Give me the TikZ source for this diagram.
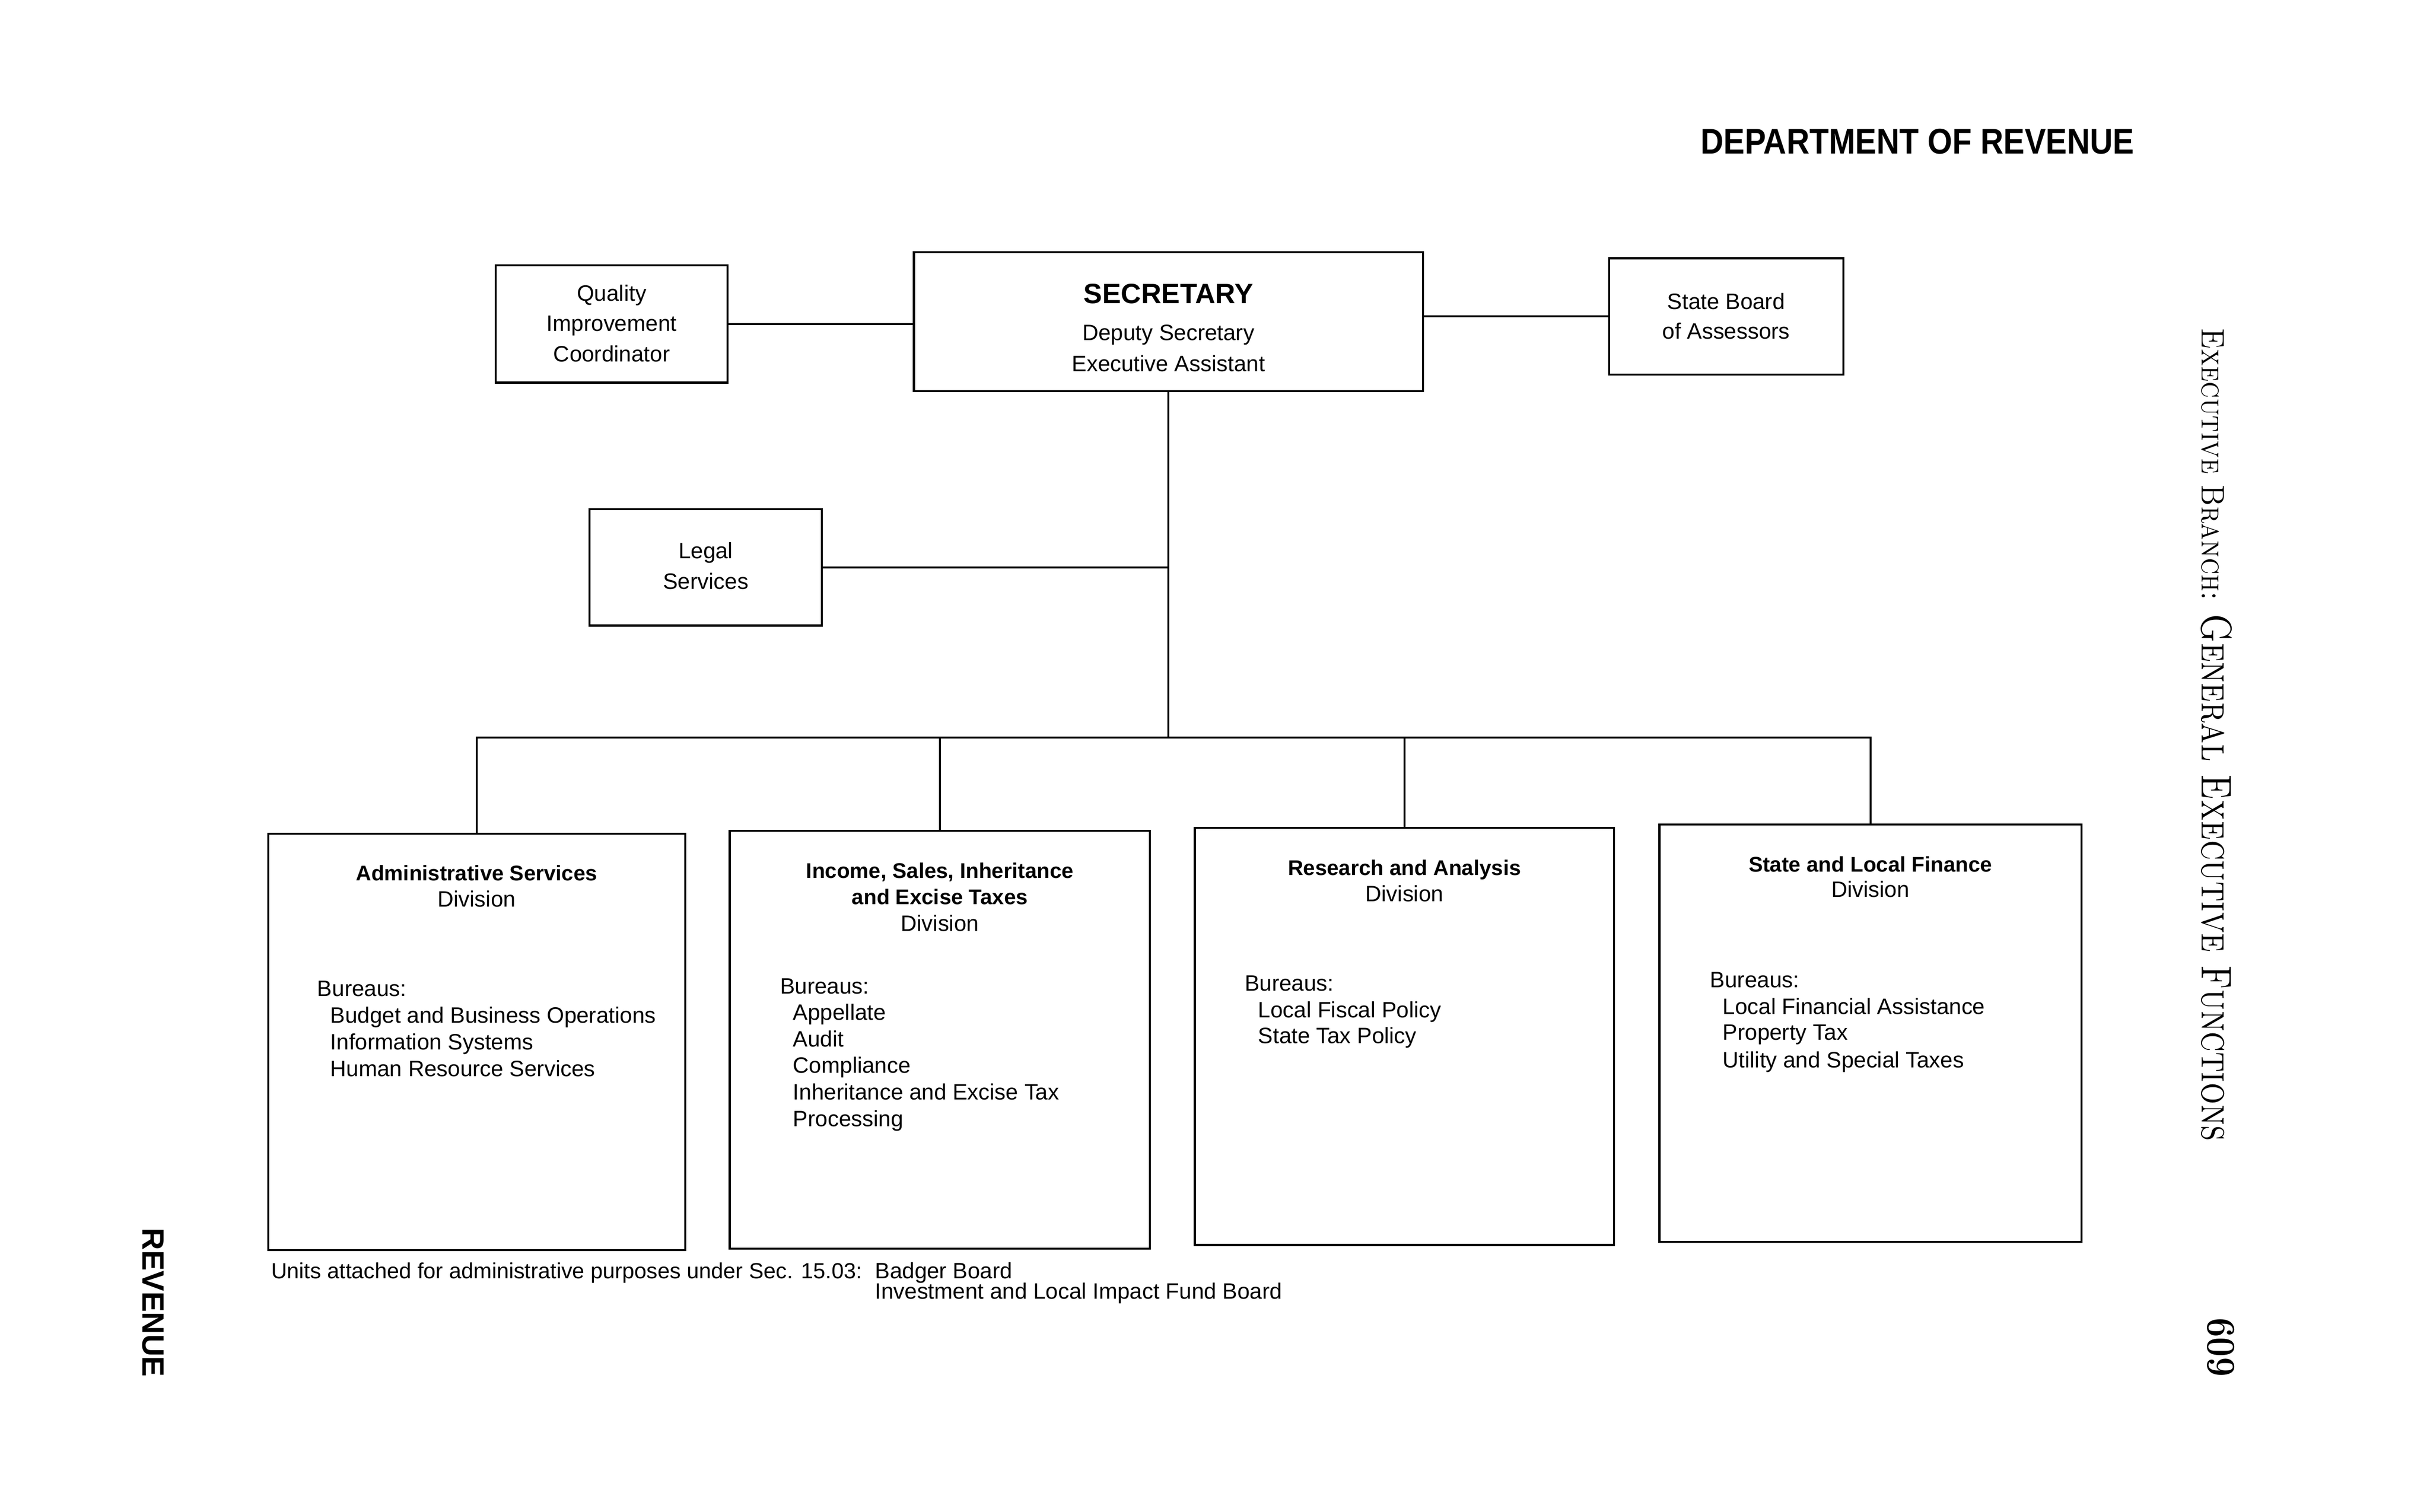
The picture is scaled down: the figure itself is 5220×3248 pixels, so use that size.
\documentclass[tikz,border=0pt]{standalone}
\usepackage{fontspec}
\usepackage{graphicx}
\newfontfamily\lsans{Liberation Sans}
\begin{document}
\begin{tikzpicture}[x=0.01cm, y=-0.01cm,
  box/.style={draw, line width=1.3pt, inner sep=0pt},
  tx/.style={inner sep=0pt, anchor=base, font=\lsans\fontsize{13.6}{16}\selectfont},
  txl/.style={tx, anchor=base west},
  tb/.style={inner sep=0pt, anchor=base, font=\lsans\bfseries\fontsize{13}{16}\selectfont},
  link/.style={line width=1.2pt}]
\fill[white] (0,0) rectangle (5220,3248);
\useasboundingbox (0,0) rectangle (5220,3248);

% heading
\node[inner sep=0pt, anchor=base, font=\lsans\bfseries\fontsize{21.8}{24}\selectfont] (dept) at (4119,330) {\scalebox{0.89}[1]{DEPARTMENT OF REVENUE}};

% top boxes
\node[box, minimum width=4.98cm, minimum height=2.52cm] (qual) at (1314,696) {};
\node[box, minimum width=10.93cm, minimum height=2.98cm] (sec) at (2510,691) {};
\node[box, minimum width=5.03cm, minimum height=2.50cm] (state) at (3708,680) {};
\node[box, minimum width=4.99cm, minimum height=2.50cm] (legal) at (1516,1219) {};

\node[tx] (q1) at (1314,647) {Quality};
\node[tx] (q2) at (1314,711) {Improvement};
\node[tx] (q3) at (1314,777) {Coordinator};
\node[tx, font=\lsans\bfseries\fontsize{17.1}{20}\selectfont] (s1) at (2510,652) {SECRETARY};
\node[tx] (s2) at (2510,731) {Deputy Secretary};
\node[tx] (s3) at (2510,798) {Executive Assistant};
\node[tx] (b1) at (3708,664) {State Board};
\node[tx] (b2) at (3708,728) {of Assessors};
\node[tx] (l1) at (1516,1200) {Legal};
\node[tx] (l2) at (1516,1266) {Services};

% division boxes
\node[box, minimum width=8.95cm, minimum height=8.94cm] (d1) at (1024,2239) {};
\node[box, minimum width=9.02cm, minimum height=8.97cm] (d2) at (2019,2234) {};
\node[box, minimum width=9.00cm, minimum height=8.96cm] (d3) at (3017,2227) {};
\node[box, minimum width=9.06cm, minimum height=8.96cm] (d4) at (4018,2220) {};

\node[tb] (d1t) at (1024,1892) {Administrative Services};
\node[tx] (d1d) at (1024,1949) {Division};
\node[txl] (d1b) at (681,2141) {Bureaus:};
\node[txl] (d1i1) at (709,2198) {Budget and Business Operations};
\node[txl] (d1i2) at (709,2256) {Information Systems};
\node[txl] (d1i3) at (709,2313) {Human Resource Services};

\node[tb] (d2t1) at (2019,1887) {Income, Sales, Inheritance};
\node[tb] (d2t2) at (2019,1943) {and Excise Taxes};
\node[tx] (d2d) at (2019,2001) {Division};
\node[txl] (d2b) at (1675,2135) {Bureaus:};
\node[txl] (d2i1) at (1703,2192) {Appellate};
\node[txl] (d2i2) at (1703,2249) {Audit};
\node[txl] (d2i3) at (1703,2306) {Compliance};
\node[txl] (d2i4) at (1703,2363) {Inheritance and Excise Tax};
\node[txl] (d2i5) at (1703,2420) {Processing};

\node[tb] (d3t) at (3017,1881) {Research and Analysis};
\node[tx] (d3d) at (3017,1937) {Division};
\node[txl] (d3b) at (2673,2129) {Bureaus:};
\node[txl] (d3i1) at (2702,2187) {Local Fiscal Policy};
\node[txl] (d3i2) at (2702,2242) {State Tax Policy};

\node[tb] (d4t) at (4018,1873) {State and Local Finance};
\node[tx] (d4d) at (4018,1928) {Division};
\node[txl] (d4b) at (3673,2122) {Bureaus:};
\node[txl] (d4i1) at (3700,2179) {Local Financial Assistance};
\node[txl] (d4i2) at (3700,2235) {Property Tax};
\node[txl] (d4i3) at (3700,2294) {Utility and Special Taxes};

% footer
\node[txl, font=\lsans\fontsize{13.4}{16}\selectfont] (u1) at (582,2747) {Units attached for administrative purposes under Sec. 15.03:};
\node[txl] (u2) at (1879,2747) {Badger Board};
\node[txl] (u3) at (1879,2791) {Investment and Local Impact Fund Board};

% side texts
\node[inner sep=0pt, rotate=-90, font=\lsans\bfseries\fontsize{18.8}{20}\selectfont] (rev) at (329,2799) {REVENUE};
\node[inner sep=0pt, rotate=-90, anchor=base west, font=\rmfamily\fontsize{19.9}{22}\selectfont] (exb) at (4730,704) {\scalebox{0.865}[1]{\textsc{Executive Branch:}}};
\node[inner sep=0pt, rotate=-90, anchor=base west, font=\rmfamily\fontsize{26.2}{28}\selectfont] (gef) at (4730,1318) {\scalebox{0.80}[1]{\textsc{General Executive Functions}}};
\node[inner sep=0pt, rotate=-90, font=\rmfamily\bfseries\fontsize{25}{27}\selectfont] (pg) at (4771,2895) {\scalebox{0.85}[1]{609}};

% connectors
\coordinate (bus) at (2510,1585);
\draw[link] (qual.east) -- (qual.east -| sec.west);
\draw[link] (state.west) -- (state.west -| sec.east);
\draw[link] (sec.south) -- (bus);
\draw[link] (legal.east) -- (legal.east -| sec.south);
\draw[link] (d1.north) -- (d1.north |- bus) -- (d4.north |- bus) -- (d4.north);
\draw[link] (d2.north) -- (d2.north |- bus);
\draw[link] (d3.north) -- (d3.north |- bus);
\end{tikzpicture}
\end{document}
